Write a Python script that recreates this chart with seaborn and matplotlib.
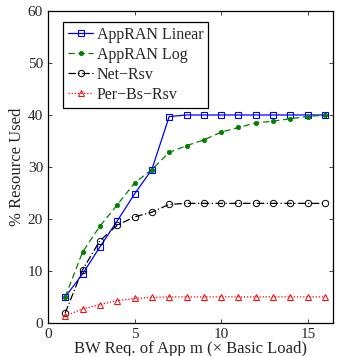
import numpy as np
import pandas as pd
import matplotlib
matplotlib.use("Agg")
import matplotlib.pyplot as plt
import seaborn as sns

# values
bw_req = list(range(1, 17))
linear = [5.0, 9.4, 14.6, 19.6, 24.8, 29.5, 39.7, 40, 40, 40, 40, 40, 40, 40, 40, 40]
log_ = [5.0, 13.6, 18.6, 22.7, 26.9, 29.5, 32.8, 34.1, 35.2, 36.7, 37.6, 38.5, 38.8, 39.3, 39.7, 40.0]
net_rsv = [1.9, 10.2, 15.8, 18.8, 20.4, 21.3, 22.8, 23, 23, 23, 23, 23, 23, 23, 23, 23]
per_bs = [1.3, 2.7, 3.5, 4.3, 4.7, 4.9, 5.0, 5.0, 5.0, 5.0, 5.0, 5.0, 5.0, 5.0, 5.0, 5.0]
names = ["AppRAN Linear", "AppRAN Log", "Net\u2212Rsv", "Per\u2212Bs\u2212Rsv"]

sns.set_style("ticks")
plt.rcParams["font.family"] = ["Liberation Serif", "DejaVu Serif"]

fig = plt.figure(figsize=(3.37, 3.56), dpi=100)
ax = fig.add_axes([0.142, 0.093, 0.846, 0.876])

styles = [
    dict(color="#0000ff", linestyle="-", marker="s", markersize=4.3, markerfacecolor="none",
         markeredgecolor="#0000ff", markeredgewidth=0.8),
    dict(color="#008000", linestyle=(0, (5, 3)), marker="o", markersize=3.2, markerfacecolor="#008000",
         markeredgecolor="#008000", markeredgewidth=0.5),
    dict(color="black", linestyle=(0, (6, 2, 1, 2)), marker="o", markersize=4.6, markerfacecolor="none",
         markeredgecolor="black", markeredgewidth=0.7),
    dict(color="#ff0000", linestyle=(0, (1, 1.5)), marker="^", markersize=4.6, markerfacecolor="none",
         markeredgecolor="#ff0000", markeredgewidth=0.7),
]
for vals, name, st in zip([linear, log_, net_rsv, per_bs], names, styles):
    df = pd.DataFrame({"x": bw_req, "y": vals})
    sns.lineplot(data=df, x="x", y="y", ax=ax, label=name, linewidth=0.9, **st)

ax.set_xlim(0, 16.45)
ax.set_ylim(0, 60)
ax.set_xticks([0, 5, 10, 15])
ax.set_yticks(range(0, 61, 10))
ax.tick_params(direction="in", top=True, right=True, labelsize=11, length=3, width=0.6)
for s in ax.spines.values():
    s.set_linewidth(0.9)
    s.set_color("black")
ax.set_xlabel("BW Req. of App m (\u00d7 Basic Load)", fontsize=12, labelpad=0)
ax.set_ylabel("% Resource Used", fontsize=12, labelpad=2)

leg = ax.legend(loc="upper left", bbox_to_anchor=(0.053, 0.965), fontsize=11.5, frameon=True, fancybox=False,
                framealpha=1, edgecolor="black", handlelength=1.6, handletextpad=0.2,
                borderpad=0.3, labelspacing=0.25, borderaxespad=0)
leg.get_frame().set_linewidth(0.9)

fig.savefig("out.png", dpi=100)
